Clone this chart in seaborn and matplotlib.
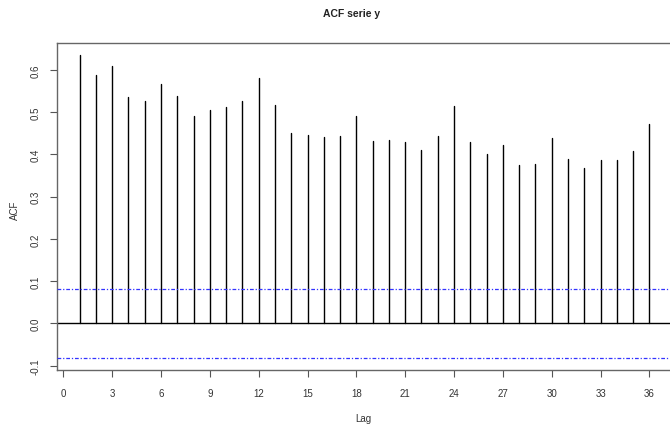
import numpy as np
import pandas as pd
import matplotlib
matplotlib.use("Agg")
import matplotlib.pyplot as plt
import seaborn as sns

lags = list(range(1, 37))
acf_values = [0.636, 0.587, 0.609, 0.536, 0.526, 0.567, 0.538, 0.490, 0.506, 0.513,
              0.526, 0.580, 0.516, 0.451, 0.446, 0.441, 0.444, 0.490, 0.431, 0.434,
              0.429, 0.410, 0.444, 0.515, 0.429, 0.400, 0.422, 0.375, 0.377, 0.439,
              0.390, 0.368, 0.387, 0.387, 0.408, 0.472]
conf_limit = 0.0815
x_ticks = list(range(0, 37, 3))
y_ticks = [-0.1, 0.0, 0.1, 0.2, 0.3, 0.4, 0.5, 0.6]
title = "ACF serie y"
xlabel = "Lag"
ylabel = "ACF"

sns.set_theme(style="white")
plt.rcParams['font.family'] = ['Liberation Sans', 'DejaVu Sans']

# long-form table: two points per lag (baseline and value)
rows = []
for l, v in zip(lags, acf_values):
    rows.append({"lag": l, "acf": 0.0})
    rows.append({"lag": l, "acf": v})
df = pd.DataFrame(rows)

fig = plt.figure(figsize=(6.70, 4.27), dpi=100)
ax = fig.add_axes([0.0848, 0.131, 0.9185, 0.766])

sns.lineplot(data=df, x="lag", y="acf", units="lag", estimator=None,
             color="black", linewidth=1.0, ax=ax, legend=False, zorder=2)

ax.axhline(0.0, color="black", linewidth=1.0, zorder=2)
ax.axhline(conf_limit, color="#3333ff", linewidth=0.9, linestyle=(0, (3, 1.5, 1, 1.5)), zorder=3)
ax.axhline(-conf_limit, color="#3333ff", linewidth=0.9, linestyle=(0, (3, 1.5, 1, 1.5)), zorder=3)

ax.set_xlim(-0.4, 37.4)
ax.set_ylim(-0.1107, 0.664)
ax.set_xticks(x_ticks)
ax.set_xticklabels([str(t) for t in x_ticks], fontsize=7, color="#333333")
ax.set_yticks(y_ticks)
ax.set_yticklabels([f"{t:.1f}" for t in y_ticks], fontsize=7, color="#333333",
                   rotation=90, va="center")
ax.tick_params(axis="x", direction="out", length=5, width=0.8, color="#555555",
               bottom=True, pad=8)
ax.tick_params(axis="y", direction="out", length=5, width=0.8, color="#555555",
               left=True, pad=7)
ax.set_xlabel("")
ax.set_ylabel("")
for s in ax.spines.values():
    s.set_color("#666666")
    s.set_linewidth(1.0)

fig.text(352 / 670, 1 - 14 / 427, title, ha="center", va="center",
         fontsize=7.5, fontweight="bold", color="#222222")
fig.text(363 / 670, 1 - 419 / 427, xlabel, ha="center", va="center",
         fontsize=7, color="#333333")
fig.text(15 / 670, 1 - 210 / 427, ylabel, ha="center", va="center",
         fontsize=7, color="#333333", rotation=90)

fig.savefig("out.png", dpi=100)
